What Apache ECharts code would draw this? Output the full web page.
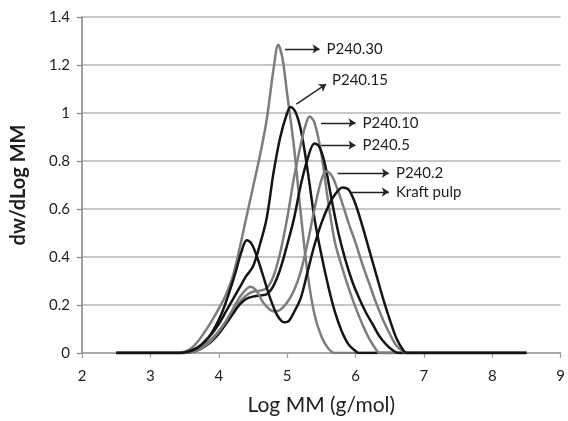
<!DOCTYPE html>
<html>
<head>
<meta charset="utf-8">
<script src="https://cdn.jsdelivr.net/npm/echarts@6/dist/echarts.min.js"></script>
<style>
html,body{margin:0;padding:0;background:#fff;}
#chart{width:568px;height:421px;}
</style>
</head>
<body>
<div id="chart"></div>
<script>
// ---- data (x = Log MM, y = dw/dLog MM) ----
var seriesNames = ['P240.30', 'P240.15', 'P240.10', 'P240.5', 'P240.2', 'Kraft pulp'];

var p240_30 = [[2.5,0],[3.4,0],[3.5,0.005],[3.6,0.02],[3.7,0.05],[3.8,0.09],[3.9,0.135],[4.0,0.185],[4.1,0.24],[4.2,0.315],[4.3,0.43],[4.4,0.56],[4.5,0.69],[4.6,0.82],[4.7,0.97],[4.8,1.18],[4.87,1.284],[4.93,1.23],[5.0,1.08],[5.1,0.86],[5.2,0.58],[5.3,0.33],[5.4,0.16],[5.5,0.07],[5.6,0.02],[5.7,0],[8.5,0]];

var p240_15 = [[2.5,0],[3.45,0],[3.55,0.005],[3.7,0.025],[3.8,0.05],[3.9,0.08],[4.0,0.12],[4.1,0.17],[4.2,0.22],[4.3,0.27],[4.4,0.32],[4.5,0.36],[4.6,0.45],[4.7,0.56],[4.8,0.75],[4.9,0.9],[5.0,1.0],[5.05,1.025],[5.12,1.005],[5.2,0.93],[5.3,0.76],[5.4,0.56],[5.5,0.41],[5.6,0.28],[5.7,0.17],[5.8,0.09],[5.9,0.035],[6.0,0.008],[6.05,0],[8.5,0]];

var p240_10 = [[2.5,0],[3.5,0],[3.6,0.005],[3.7,0.015],[3.8,0.035],[3.9,0.06],[4.0,0.09],[4.1,0.13],[4.2,0.17],[4.3,0.21],[4.4,0.24],[4.5,0.255],[4.6,0.26],[4.7,0.27],[4.8,0.32],[4.9,0.42],[5.0,0.56],[5.1,0.73],[5.2,0.87],[5.27,0.95],[5.33,0.985],[5.4,0.96],[5.5,0.83],[5.6,0.63],[5.7,0.46],[5.8,0.36],[5.9,0.27],[6.0,0.19],[6.1,0.12],[6.2,0.06],[6.3,0.015],[6.35,0],[8.5,0]];

var p240_5 = [[2.5,0],[3.5,0],[3.6,0.004],[3.7,0.012],[3.8,0.028],[3.9,0.05],[4.0,0.08],[4.1,0.12],[4.2,0.16],[4.3,0.2],[4.4,0.225],[4.5,0.235],[4.6,0.24],[4.7,0.245],[4.8,0.28],[4.9,0.35],[5.0,0.45],[5.1,0.56],[5.2,0.7],[5.3,0.81],[5.4,0.873],[5.47,0.86],[5.55,0.79],[5.65,0.64],[5.75,0.5],[5.85,0.39],[5.95,0.3],[6.05,0.23],[6.15,0.17],[6.25,0.12],[6.35,0.07],[6.45,0.035],[6.55,0.01],[6.62,0],[8.5,0]];

var p240_2 = [[2.5,0],[3.5,0],[3.6,0.004],[3.7,0.012],[3.8,0.03],[3.9,0.055],[4.0,0.09],[4.1,0.13],[4.2,0.18],[4.3,0.23],[4.4,0.265],[4.46,0.276],[4.55,0.26],[4.65,0.21],[4.75,0.18],[4.82,0.173],[4.9,0.18],[5.0,0.21],[5.1,0.26],[5.2,0.34],[5.3,0.46],[5.4,0.6],[5.5,0.72],[5.57,0.757],[5.65,0.74],[5.7,0.71],[5.8,0.63],[5.9,0.54],[6.0,0.46],[6.1,0.37],[6.2,0.29],[6.3,0.21],[6.4,0.14],[6.5,0.08],[6.6,0.03],[6.7,0.005],[6.75,0],[8.5,0]];

var kraftPulp = [[2.5,0],[3.45,0],[3.55,0.005],[3.65,0.015],[3.75,0.035],[3.85,0.065],[3.95,0.11],[4.05,0.17],[4.15,0.25],[4.25,0.34],[4.33,0.42],[4.41,0.47],[4.48,0.455],[4.56,0.4],[4.65,0.32],[4.75,0.23],[4.85,0.16],[4.92,0.133],[4.97,0.128],[5.03,0.135],[5.1,0.17],[5.2,0.23],[5.3,0.34],[5.4,0.45],[5.5,0.54],[5.6,0.61],[5.7,0.66],[5.81,0.69],[5.9,0.68],[6.0,0.62],[6.1,0.53],[6.2,0.43],[6.3,0.33],[6.4,0.23],[6.5,0.14],[6.6,0.06],[6.7,0.01],[6.75,0],[8.5,0]];

var xTicks = [2, 3, 4, 5, 6, 7, 8, 9];
var yTicks = [0, 0.2, 0.4, 0.6, 0.8, 1, 1.2, 1.4];

// annotation arrows (data coordinates: start -> end)
var annotStart = [[4.967,1.267],[5.135,1.037],[5.497,0.959],[5.497,0.866],[5.739,0.749],[5.932,0.671]];
var annotEnd   = [[5.474,1.267],[5.570,1.120],[6.0,0.959],[6.0,0.866],[6.488,0.749],[6.488,0.671]];

var allData = [p240_30, p240_15, p240_10, p240_5, p240_2, kraftPulp];
var colors = ['#7d7d7d', '#151515', '#7d7d7d', '#151515', '#7d7d7d', '#151515'];
var FONT = 'Lato, "Open Sans", sans-serif';

var series = allData.map(function (d, i) {
  return {
    name: seriesNames[i],
    type: 'line',
    data: d,
    smooth: 0.35,
    showSymbol: false,
    symbol: 'none',
    lineStyle: { color: colors[i], width: 2.5 },
    z: 3,
    markLine: {
      silent: true,
      animation: false,
      symbol: ['none', 'arrow'],
      symbolSize: [7, 7],
      lineStyle: { color: '#222', width: 1.4, type: 'solid' },
      label: {
        show: true,
        position: 'end',
        distance: 7,
        formatter: seriesNames[i],
        color: '#1e1e1e',
        fontSize: 15,
        fontFamily: FONT,
        fontWeight: 'normal'
      },
      data: [[
        { coord: annotStart[i] },
        { coord: annotEnd[i] }
      ]]
    }
  };
});

var chart = echarts.init(document.getElementById('chart'), null, { renderer: 'canvas' });
chart.setOption({
  animation: false,
  backgroundColor: '#ffffff',
  grid: { left: 82, right: 3, top: 17, bottom: 64, containLabel: false },
  xAxis: {
    type: 'value',
    min: xTicks[0],
    max: xTicks[xTicks.length - 1],
    interval: 1,
    name: 'Log MM (g/mol)',
    nameLocation: 'middle',
    nameGap: 42,
    nameTextStyle: { fontSize: 21, color: '#1e1e1e', fontFamily: FONT },
    axisLine: { show: true, lineStyle: { color: '#a0a0a0', width: 1.5 } },
    axisTick: { show: true, length: 5, lineStyle: { color: '#a0a0a0', width: 1.2 } },
    axisLabel: { fontSize: 15, color: '#222', margin: 16, fontFamily: FONT },
    splitLine: { show: false }
  },
  yAxis: {
    type: 'value',
    min: yTicks[0],
    max: yTicks[yTicks.length - 1],
    interval: 0.2,
    name: 'dw/dLog MM',
    nameLocation: 'middle',
    nameGap: 53,
    nameTextStyle: { fontSize: 20, fontWeight: 'bold', color: '#1e1e1e', fontFamily: FONT },
    axisLine: { show: true, lineStyle: { color: '#808080', width: 1.5 } },
    axisTick: { show: true, length: 5, lineStyle: { color: '#808080', width: 1.2 } },
    axisLabel: { fontSize: 15, color: '#222', margin: 12, fontFamily: FONT },
    splitLine: { show: true, lineStyle: { color: '#b4b4b4', width: 1.5 } }
  },
  series: series
});
</script>
</body>
</html>
